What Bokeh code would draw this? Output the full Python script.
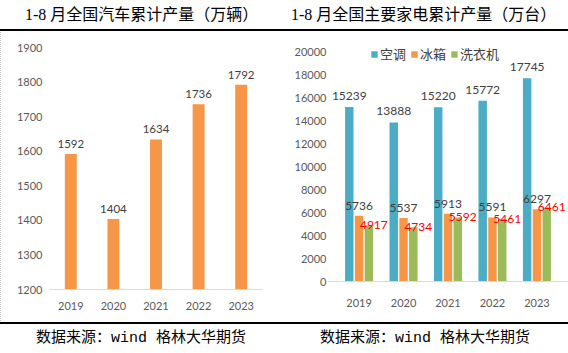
from bokeh.plotting import figure
from bokeh.models import (Div, Range1d, FactorRange, ColumnDataSource, Legend, LegendItem,
                          FixedTicker, LabelSet)
from bokeh.layouts import row, column
from bokeh.transform import dodge
from bokeh.embed import file_html
from bokeh.resources import INLINE
from bokeh.core.properties import value

# ---- data ----
years = ["2019", "2020", "2021", "2022", "2023"]
car_output = [1592, 1404, 1634, 1736, 1792]
ac_output = [15239, 13888, 15220, 15772, 17745]
fridge_output = [5736, 5537, 5913, 5591, 6297]
washer_output = [4917, 4734, 5592, 5461, 6461]
car_ticks = [1200, 1300, 1400, 1500, 1600, 1700, 1800, 1900]
app_ticks = [0, 2000, 4000, 6000, 8000, 10000, 12000, 14000, 16000, 18000, 20000]
series_names = ["空调", "冰箱", "洗衣机"]
left_title = "1-8 月全国汽车累计产量（万辆）"
right_title = "1-8 月全国主要家电累计产量（万台）"
source_note = "数据来源：wind 格林大华期货"

# ---- styles ----
BLUE, ORANGE, GREEN = "#4bacc6", "#f79646", "#9bbb59"
TICK_COLOR = "#595959"
LABEL_COLOR = "#404040"
NUM_FONT = "Lato"

def style_axes(p, ticks, x_standoff, y_standoff):
    p.yaxis.ticker = FixedTicker(ticks=ticks)
    for ax in (p.xaxis, p.yaxis):
        ax.major_tick_line_color = None
        ax.minor_tick_line_color = None
        ax.major_tick_out = 0
        ax.major_tick_in = 0
        ax.minor_tick_out = 0
        ax.major_label_text_font = NUM_FONT
        ax.major_label_text_font_size = "11px"
        ax.major_label_text_color = TICK_COLOR
    p.yaxis.axis_line_color = None
    p.yaxis.major_label_standoff = y_standoff
    p.xaxis.axis_line_color = "#d9d9d9"
    p.xaxis.major_label_standoff = x_standoff
    p.xgrid.grid_line_color = None
    p.ygrid.grid_line_color = None
    p.outline_line_color = None
    p.background_fill_color = "white"
    p.border_fill_color = "white"

# ---- left: cars ----
car_src = ColumnDataSource(dict(years=years, car=car_output,
                                car_lbl=[str(v) for v in car_output]))
p1 = figure(x_range=FactorRange(factors=years, range_padding=0),
            y_range=Range1d(1200, 1900),
            width=282, height=291, output_backend="svg", toolbar_location=None,
            min_border_left=49, min_border_right=20, min_border_top=16, min_border_bottom=33)
p1.vbar(x="years", top="car", bottom=1200, width=0.28, source=car_src,
        fill_color=ORANGE, line_color=None)
p1.text(x="years", y="car", text="car_lbl", source=car_src, text_align="center",
        text_baseline="bottom", y_offset=-6, text_font=value(NUM_FONT),
        text_font_size="11.5px", text_color=LABEL_COLOR)
style_axes(p1, car_ticks, 12, 7)

# ---- right: appliances ----
app_src = ColumnDataSource(dict(years=years, ac=ac_output, fridge=fridge_output, washer=washer_output,
                                ac_lbl=[str(v) for v in ac_output],
                                fridge_lbl=[str(v) for v in fridge_output],
                                washer_lbl=[str(v) for v in washer_output]))
p2 = figure(x_range=FactorRange(factors=years, range_padding=0.21, range_padding_units="absolute"),
            y_range=Range1d(0, 20600),
            width=286, height=291, output_backend="svg", toolbar_location=None,
            min_border_left=45, min_border_right=0, min_border_top=14, min_border_bottom=41)
r_ac = p2.vbar(x=dodge("years", -0.22, range=p2.x_range), top="ac", width=0.19,
               source=app_src, fill_color=BLUE, line_color=None)
r_fr = p2.vbar(x=dodge("years", 0.0, range=p2.x_range), top="fridge", width=0.19,
               source=app_src, fill_color=ORANGE, line_color=None)
r_wa = p2.vbar(x=dodge("years", 0.22, range=p2.x_range), top="washer", width=0.19,
               source=app_src, fill_color=GREEN, line_color=None)
p2.text(x=dodge("years", -0.22, range=p2.x_range), y="ac", text="ac_lbl", source=app_src,
        text_align="center", text_baseline="bottom", y_offset=-7, text_font=value(NUM_FONT),
        text_font_size="12px", text_color=LABEL_COLOR)
p2.text(x=dodge("years", 0.0, range=p2.x_range), y="fridge", text="fridge_lbl", source=app_src,
        text_align="center", text_baseline="bottom", y_offset=-6, text_font=value(NUM_FONT),
        text_font_size="12px", text_color=LABEL_COLOR)
washer_labels = LabelSet(x=dodge("years", 0.22, range=p2.x_range), y="washer", text="washer_lbl",
                         source=app_src, text_align="center", text_baseline="middle",
                         x_offset=5, text_font=value(NUM_FONT), text_font_size="12px",
                         text_color="#ff0000")
p2.add_layout(washer_labels)
style_axes(p2, app_ticks, 17, 1)

legend = Legend(items=[LegendItem(label=series_names[0], renderers=[r_ac]),
                       LegendItem(label=series_names[1], renderers=[r_fr]),
                       LegendItem(label=series_names[2], renderers=[r_wa])],
                orientation="horizontal", location=(43, 218),
                glyph_width=8, glyph_height=8, label_standoff=2, spacing=4,
                padding=0, margin=0, border_line_color=None, background_fill_alpha=0,
                label_text_font="Noto Sans CJK SC", label_text_font_size="13px",
                label_text_color=LABEL_COLOR, label_height=13)
p2.add_layout(legend)

# ---- titles & footers ----
def band(text, w, top, font, size, pad_left=None):
    border = "border-bottom:2px solid #000;" if top else "border-top:2px solid #000;"
    align = "text-align:center;" if pad_left is None else f"text-align:left;padding-left:{pad_left}px;"
    st = (f"width:{w}px;height:31px;box-sizing:border-box;{border}{align}"
          f"font-family:{font};font-size:{size}px;line-height:29px;color:#000;"
          "white-space:nowrap;background:#fff;margin:0;")
    return Div(text=f'<div style="{st}">{text}</div>', width=w, height=31, margin=0)

TITLE_FONT = "'Liberation Serif','Noto Sans CJK SC'"
FOOT_FONT = "'Liberation Mono','Noto Sans CJK SC'"
FRAME_STYLE = {"outline": "1px dotted #b4b4b4", "outline-offset": "-1px"}

left_col = column(band(left_title, 282, True, TITLE_FONT, 16, pad_left=25), p1,
                  band(source_note, 282, False, FOOT_FONT, 15), spacing=0, styles=FRAME_STYLE)
right_col = column(band(right_title, 286, True, TITLE_FONT, 16, pad_left=9), p2,
                   band(source_note, 286, False, FOOT_FONT, 15), spacing=0)
layout = row(left_col, right_col, spacing=0, styles=FRAME_STYLE)

open("out.html", "w").write(file_html(layout, INLINE))
